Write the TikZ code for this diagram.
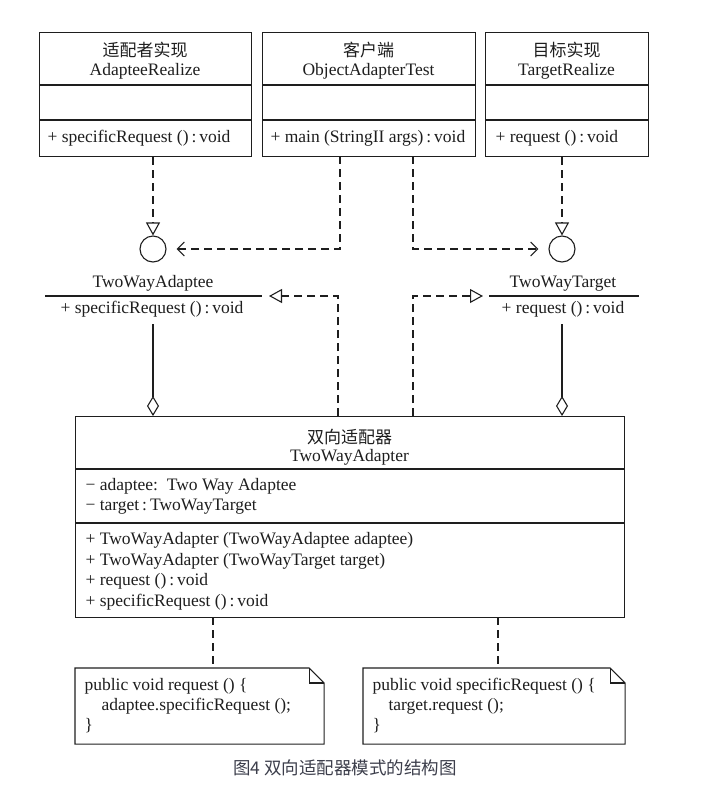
\documentclass[tikz,border=0pt]{standalone}
\usepackage{fontspec}
\setmainfont{Liberation Serif}
\newfontfamily\cjk{Noto Sans CJK SC}
\usetikzlibrary{arrows.meta,calc}
\definecolor{ink}{RGB}{30,30,30}
\definecolor{capgray}{RGB}{60,62,75}
\newcommand{\cv}{\thinspace:\thinspace}
\begin{document}
\begin{tikzpicture}[x=1pt,y=-1pt, line width=1.1pt, color=ink,
  umlbox/.style={draw=ink, line width=1.1pt, anchor=north west, inner sep=0pt},
  txt/.style={anchor=base, inner sep=0pt, text=ink, font=\fontsize{17.5}{21}\selectfont},
  ltxt/.style={anchor=base west, inner sep=0pt, text=ink, font=\fontsize{17.5}{21}\selectfont},
  cn/.style={anchor=base, inner sep=0pt, text=ink, font=\cjk\fontsize{17}{18}\selectfont},
  iface/.style={circle, draw=ink, line width=1.1pt, minimum size=26pt, inner sep=0pt},
  dashline/.style={dash pattern=on 8pt off 5pt},
  realtip/.style={-{Triangle[open,length=13pt,width=14pt]}},
  dep/.style={dashline, -{Straight Barb[length=7pt,width=14pt]}, shorten >=10pt},
  agg/.style={-{Diamond[open,length=20pt,width=12pt]}},
  notebox/.style={draw=none, anchor=north west, inner sep=0pt}
]
\useasboundingbox (0,0) rectangle (707,788);

% ---------- top classes ----------
\node[umlbox, minimum width=212pt, minimum height=124pt] (ar) at (39,32) {};
\draw (39,85) -- (251,85);
\draw (39,120) -- (251,120);
\node[cn] (ar1) at (145,56) {适配者实现};
\node[txt] (ar2) at (145,75) {AdapteeRealize};
\node[ltxt] (ar3) at (47,142) {+ specificRequest ()\cv void};

\node[umlbox, minimum width=213pt, minimum height=124pt] (ob) at (262,32) {};
\draw (262,85) -- (475,85);
\draw (262,120) -- (475,120);
\node[cn] (ob1) at (368.5,56) {客户端};
\node[txt] (ob2) at (368.5,75) {ObjectAdapterTest};
\node[ltxt] (ob3) at (270,142) {+ main (StringII args)\cv void};

\node[umlbox, minimum width=163pt, minimum height=124pt] (tr) at (485,32) {};
\draw (485,85) -- (648,85);
\draw (485,120) -- (648,120);
\node[cn] (tr1) at (566.5,56) {目标实现};
\node[txt] (tr2) at (566.5,75) {TargetRealize};
\node[ltxt] (tr3) at (495,142) {+ request ()\cv void};

% ---------- interfaces (lollipops) ----------
\node[iface] (ci1) at (153,249) {};
\node[iface] (ci2) at (562,249) {};

\node[txt] (ia1) at (153,287) {TwoWayAdaptee};
\coordinate (iaL) at (45,296);
\coordinate (iaR) at (262,296);
\draw (iaL) -- (iaR);
\node[txt] (ia2) at (152,313) {+ specificRequest ()\cv void};

\node[txt] (it1) at (563,287) {TwoWayTarget};
\coordinate (itL) at (489,296);
\coordinate (itR) at (639,296);
\draw (itL) -- (itR);
\node[txt] (it2) at (563,313) {+ request ()\cv void};

% ---------- adapter class ----------
\node[umlbox, minimum width=549pt, minimum height=201pt] (tw) at (75,416) {};
\draw (75,469) -- (624,469);
\draw (75,523) -- (624,523);
\node[cn] (tw1) at (349.5,443) {双向适配器};
\node[txt] (tw2) at (349.5,461) {TwoWayAdapter};
\node[ltxt] (tw3) at (85,490) {− adaptee:\ \ Two Way Adaptee};
\node[ltxt] (tw4) at (85,510) {− target\cv TwoWayTarget};
\node[ltxt] (tw5) at (85,544) {+ TwoWayAdapter (TwoWayAdaptee adaptee)};
\node[ltxt] (tw6) at (85,565) {+ TwoWayAdapter (TwoWayTarget target)};
\node[ltxt] (tw7) at (85,585) {+ request ()\cv void};
\node[ltxt] (tw8) at (85,606) {+ specificRequest ()\cv void};

% ---------- notes ----------
\node[notebox, minimum width=248pt, minimum height=75pt] (n1) at (75,668) {};
\draw (n1.north west) -- ($(n1.north east)+(-15,0)$) -- ($(n1.north east)+(0,15)$)
      -- (n1.south east) -- (n1.south west) -- cycle;
\draw ($(n1.north east)+(-15,0)$) |- ($(n1.north east)+(0,15)$);
\node[ltxt] (n1a) at (84,690) {public void request () \{};
\node[ltxt] (n1b) at (101,710) {adaptee.specificRequest ();};
\node[ltxt] (n1c) at (84,730) {\}};

\node[notebox, minimum width=261pt, minimum height=75pt] (n2) at (363,668) {};
\draw (n2.north west) -- ($(n2.north east)+(-15,0)$) -- ($(n2.north east)+(0,15)$)
      -- (n2.south east) -- (n2.south west) -- cycle;
\draw ($(n2.north east)+(-15,0)$) |- ($(n2.north east)+(0,15)$);
\node[ltxt] (n2a) at (372,690) {public void specificRequest () \{};
\node[ltxt] (n2b) at (388,710) {target.request ();};
\node[ltxt] (n2c) at (372,730) {\}};

% ---------- connectors ----------
\draw[dashline, realtip] (ci1 |- ar.south) -- (ci1.north);
\draw[dashline, realtip] (ci2 |- tr.south) -- (ci2.north);

\coordinate (obL) at (340,156);
\coordinate (obR) at (413,156);
\draw[dep] (obL) |- (ci1);
\draw[dep] (obR) |- (ci2);

\coordinate (twA) at (338,416);
\coordinate (twB) at (413,416);
\draw[dashline, realtip, shorten >=7pt] (twA) |- (iaR);
\draw[dashline, realtip, shorten >=6pt] (twB) |- (itL);

\coordinate (iaB) at (153,324);
\coordinate (itB) at (562,324);
\draw[agg] (iaB) -- (iaB |- tw.north);
\draw[agg] (itB) -- (itB |- tw.north);

\coordinate (twN1) at (213,617);
\coordinate (twN2) at (498,617);
\draw[dashline] (twN1) -- (twN1 |- n1.north);
\draw[dashline] (twN2) -- (twN2 |- n2.north);

% ---------- caption ----------
\node[anchor=base, inner sep=0pt, text=capgray, font=\cjk\fontsize{17.5}{18}\selectfont] (cap) at (345,774) {图4 双向适配器模式的结构图};
\end{tikzpicture}
\end{document}
